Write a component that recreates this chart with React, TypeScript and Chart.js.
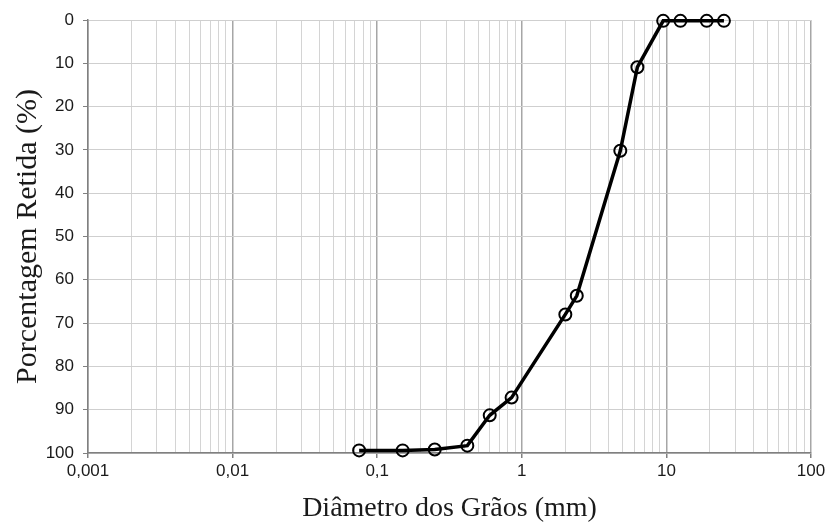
import React, { useEffect, useRef } from "react";
import { Chart, registerables } from "chart.js";

Chart.register(...registerables);

const diameters = [0.075, 0.15, 0.25, 0.42, 0.6, 0.85, 2.0, 2.4, 4.8, 6.3, 9.5, 12.5, 19, 25];
const retained = [99.4, 99.4, 99.2, 98.3, 91.3, 87.2, 68.0, 63.7, 30.2, 10.9, 0.2, 0.2, 0.2, 0.2];

const xDecades = [0.001, 0.01, 0.1, 1, 10, 100];
const xTickLabels = ["0,001", "0,01", "0,1", "1", "10", "100"];
const xMinorMultipliers = [2, 3, 4, 5, 6, 7, 8, 9];
const yTicks = [0, 10, 20, 30, 40, 50, 60, 70, 80, 90, 100];

const xTitle = "Diâmetro dos Grãos (mm)";
const yTitle = "Porcentagem Retida (%)";

function isDecade(v: number) {
  const l = Math.log10(v);
  return Math.abs(l - Math.round(l)) < 1e-6;
}

export default function App() {
  const ref = useRef<HTMLCanvasElement | null>(null);

  useEffect(() => {
    document.body.style.margin = "0";
    const canvas = ref.current;
    if (!canvas) return;

    const allXTicks: number[] = [];
    xDecades.forEach((d, i) => {
      allXTicks.push(d);
      if (i < xDecades.length - 1) {
        xMinorMultipliers.forEach((m) => allXTicks.push(+(d * m).toPrecision(6)));
      }
    });

    const chart = new Chart(canvas, {
      type: "line",
      data: {
        datasets: [
          {
            data: diameters.map((d, i) => ({ x: d, y: retained[i] })),
            borderColor: "#000",
            borderWidth: 3.5,
            pointRadius: 6,
            pointBorderWidth: 2,
            pointBorderColor: "#000",
            pointBackgroundColor: "rgba(0,0,0,0)",
            pointStyle: "circle",
            tension: 0,
            clip: false,
          } as any,
        ],
      },
      options: {
        animation: false,
        responsive: false,
        maintainAspectRatio: false,
        layout: { padding: { left: 0, right: 19, top: 20, bottom: 0 } },
        plugins: { legend: { display: false }, tooltip: { enabled: false } },
        scales: {
          x: {
            type: "logarithmic",
            min: 0.001,
            max: 100,
            afterBuildTicks: (scale: any) => {
              scale.ticks = allXTicks.map((v) => ({ value: v }));
            },
            afterFit: (scale: any) => {
              scale.height = 72;
            },
            ticks: {
              autoSkip: false,
              maxRotation: 0,
              minRotation: 0,
              padding: 3,
              color: "#1a1a1a",
              font: { family: "'Liberation Sans', Arial, sans-serif", size: 17 },
              callback: (v: any) => {
                const idx = xDecades.findIndex((d) => Math.abs(d - Number(v)) / d < 1e-6);
                return idx >= 0 ? xTickLabels[idx] : "";
              },
            },
            grid: {
              color: (ctx: any) => (ctx.tick && isDecade(ctx.tick.value) ? "#a6a6a6" : "#d4d4d4"),
              lineWidth: (ctx: any) => (ctx.tick && isDecade(ctx.tick.value) ? 1.5 : 1),
              tickLength: 5,
              tickColor: (ctx: any) => (ctx.tick && isDecade(ctx.tick.value) ? "#808080" : "rgba(0,0,0,0)"),
            },
            border: { color: "#808080", width: 1.5 },
            title: {
              display: true,
              text: xTitle,
              color: "#1a1a1a",
              font: { family: "'Liberation Serif', 'Times New Roman', serif", size: 28 },
              padding: { top: 1, bottom: 0 },
            },
          },
          y: {
            type: "linear",
            reverse: true,
            min: 0,
            max: 100,
            afterBuildTicks: (scale: any) => {
              scale.ticks = yTicks.map((v) => ({ value: v }));
            },
            afterFit: (scale: any) => {
              scale.width = 88;
            },
            ticks: {
              padding: 9,
              color: "#1a1a1a",
              font: { family: "'Liberation Sans', Arial, sans-serif", size: 17 },
            },
            grid: {
              color: "#cfcfcf",
              lineWidth: 1,
              tickLength: 5,
              tickColor: "#808080",
            },
            border: { color: "#808080", width: 1.5 },
            title: {
              display: true,
              text: yTitle,
              color: "#1a1a1a",
              font: { family: "'Liberation Serif', 'Times New Roman', serif", size: 30 },
              padding: { top: 10, bottom: 0 },
            },
          },
        },
      },
    });
    return () => chart.destroy();
  }, []);

  return (
    <div style={{ width: 830, height: 525 }}>
      <canvas ref={ref} width={830} height={525} style={{ display: "block" }} />
    </div>
  );
}
